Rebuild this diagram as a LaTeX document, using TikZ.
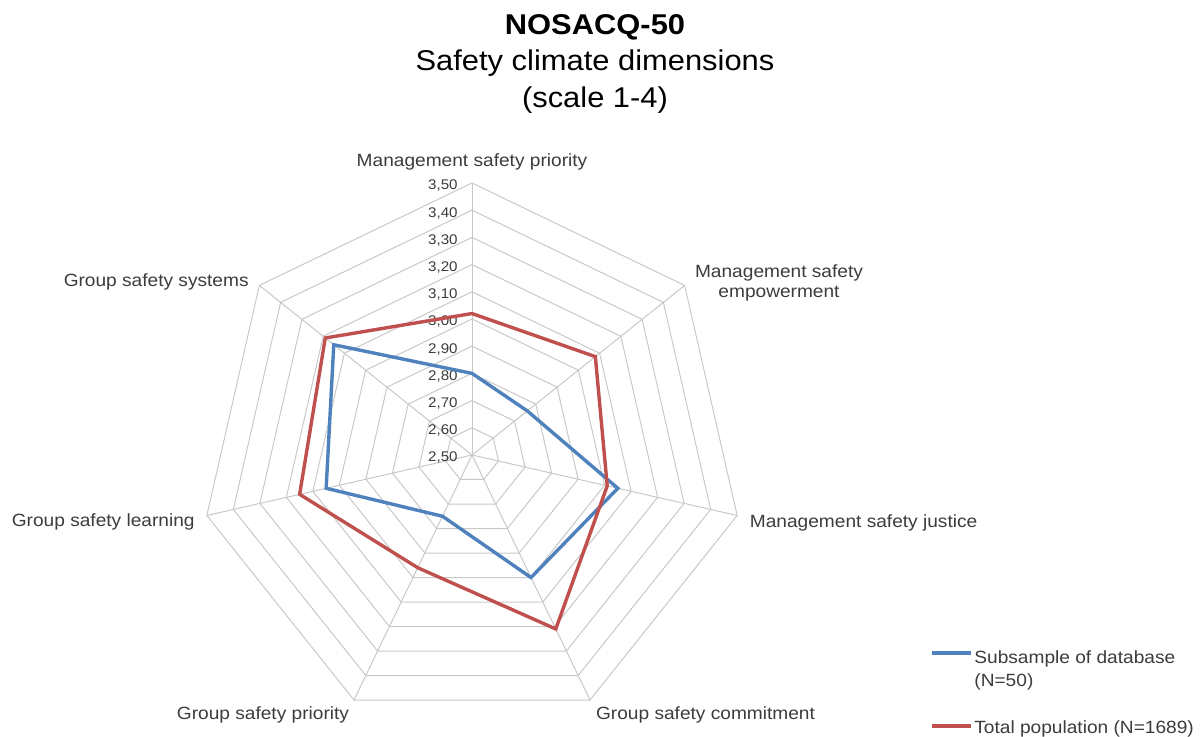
\documentclass[tikz,border=0pt]{standalone}
\usepackage{fontspec}
\setmainfont{Liberation Sans}[FakeStretch=1.08]
\usetikzlibrary{positioning}

\definecolor{subsample}{RGB}{79,129,189}
\definecolor{population}{RGB}{192,80,77}
\definecolor{webgray}{RGB}{200,200,200}
\definecolor{labelgray}{RGB}{60,60,60}

\begin{document}
\begin{tikzpicture}[x=0.5pt,y=0.5pt,
  axislabel/.style={font=\fontsize{8.85}{10}\selectfont,text=labelgray,inner sep=0},
  ticklabel/.style={font=\fontsize{7}{8}\selectfont,text=labelgray,inner sep=0,anchor=east},
  legendlabel/.style={font=\fontsize{8.85}{11.5}\selectfont,text=labelgray,inner sep=0,align=left},
  web/.style={webgray,line width=0.5pt},
  series/.style={line width=1.7pt,line join=miter}]

\useasboundingbox (0,0) rectangle (1204,737);

% title node
\node[font=\fontsize{14.3}{18.25}\selectfont,align=center,anchor=north,inner sep=0] (title) at (595,723)
  {\textbf{NOSACQ-50}\\Safety climate dimensions\\(scale 1-4)};

% chart centre, value 2,50
\coordinate (centre) at (472,282);

\begin{scope}[shift={(centre)}]
% web rings
\foreach \k in {1,...,10}
  \draw[web] (90:{\k*27.2}) \foreach \i in {1,...,6} { -- ({90-\i*360/7}:{\k*27.2}) } -- cycle;

% spokes
\foreach \i in {0,...,6}
  \draw[web] (0,0) -- ({90-\i*360/7}:272);

% scale labels
\foreach \k in {0,...,10} {
  \pgfmathsetmacro\tickval{2.5+\k/10}
  \node[ticklabel] (tick\k) at (-14,{\k*27.2-3})
    {\pgfmathprintnumber[fixed,fixed zerofill,precision=2,use comma,assume math mode=true]{\tickval}};
}

% subsample series
\draw[series,subsample] (90:{(2.80-2.5)*272})
  \foreach \i/\v in {1/2.76,2/3.05,3/3.00,4/2.75,5/3.05,6/3.15} { -- ({90-\i*360/7}:{(\v-2.5)*272}) } -- cycle;

% total population series
\draw[series,population] (90:{(3.02-2.5)*272})
  \foreach \i/\v in {1/3.08,2/3.01,3/3.21,4/2.96,5/3.15,6/3.19} { -- ({90-\i*360/7}:{(\v-2.5)*272}) } -- cycle;
\end{scope}

% dimension labels
\node[axislabel,anchor=base] (mgmt_priority) at (472,570) {Management safety priority};
\node[axislabel,anchor=north,align=center] (mgmt_empowerment) at (779,473) {Management safety\\empowerment};
\node[axislabel,anchor=base west] (mgmt_justice) at (749.5,209.7) {Management safety justice};
\node[axislabel,anchor=base] (group_commitment) at (705.5,17) {Group safety commitment};
\node[axislabel,anchor=base] (group_priority) at (263,17) {Group safety priority};
\node[axislabel,anchor=base east] (group_learning) at (195,210.3) {Group safety learning};
\node[axislabel,anchor=base east] (group_systems) at (249,450.3) {Group safety systems};

% legend
\node[legendlabel,anchor=north west] (legend_sub) at (974,87.2) {Subsample of database\\(N=50)};
\node[legendlabel,anchor=base west] (legend_pop) at (974,3.7) {Total population (N=1689)};
\coordinate (key_sub) at (932,84);
\coordinate (key_pop) at (932,11);
\draw[series,subsample] (key_sub) -- ++(39,0);
\draw[series,population] (key_pop) -- ++(39,0);

\end{tikzpicture}
\end{document}
